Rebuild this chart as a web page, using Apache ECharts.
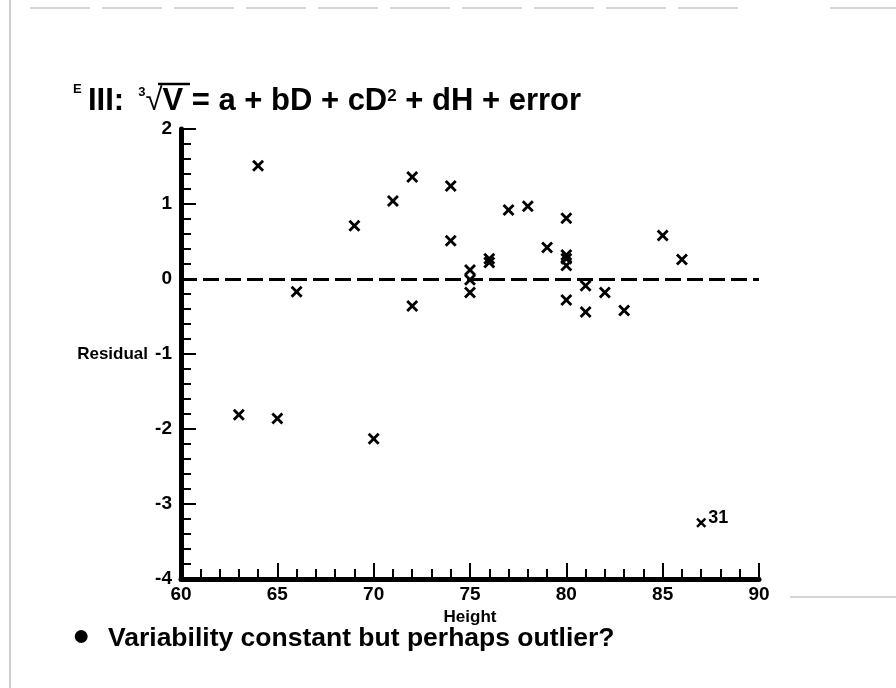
<!DOCTYPE html>
<html>
<head>
<meta charset="utf-8">
<script src="https://cdn.jsdelivr.net/npm/echarts@6/dist/echarts.min.js"></script>
<style>html,body{margin:0;padding:0;background:#fff}#c{width:896px;height:688px}</style>
</head>
<body>
<div id="c"></div>
<script>
// Data
const heights   = [63, 64, 65, 66, 69, 70, 71, 72, 72, 74, 74, 75, 75, 75, 76, 76, 77, 78, 79, 80, 80, 80, 80, 80, 81, 81, 82, 83, 85, 86];
const residuals = [-1.81, 1.51, -1.86, -0.17, 0.71, -2.13, 1.04, 1.36, -0.36, 1.24, 0.51, 0.12, -0.01, -0.18, 0.27, 0.22, 0.92, 0.97, 0.42, 0.81, 0.32, 0.27, 0.18, -0.28, -0.09, -0.44, -0.18, -0.42, 0.58, 0.26];
const outlierHeight = [87];
const outlierResidual = [-3.25];
const outlierLabel = ['31'];
const xTicks = [60, 65, 70, 75, 80, 85, 90];
const yTicks = [-4, -3, -2, -1, 0, 1, 2];

const FONT = '"Liberation Sans", Arial, sans-serif';
const cross = 'path://M0,2 L2,0 L6,4 L10,0 L12,2 L8,6 L12,10 L10,12 L6,8 L2,12 L0,10 L4,6 Z';

const chart = echarts.init(document.getElementById('c'), null, {renderer: 'canvas'});
chart.setOption({
  backgroundColor: '#fff',
  animation: false,
  grid: {left: 181, right: 137, top: 129, bottom: 109},
  xAxis: {
    type: 'value', min: xTicks[0], max: xTicks[xTicks.length - 1], interval: 5,
    name: 'Height', nameLocation: 'middle', nameGap: 24,
    nameTextStyle: {fontFamily: FONT, fontWeight: 'bold', fontSize: 17, color: '#000'},
    axisLine: {onZero: false, lineStyle: {color: '#000', width: 5}},
    axisTick: {inside: true, length: 16, lineStyle: {color: '#000', width: 2}},
    minorTick: {show: true, splitNumber: 5, length: 10, lineStyle: {color: '#000', width: 2}},
    axisLabel: {margin: 6, fontFamily: FONT, fontWeight: 'bold', fontSize: 19, color: '#000'},
    splitLine: {show: false}
  },
  yAxis: {
    type: 'value', min: yTicks[0], max: yTicks[yTicks.length - 1], interval: 1,
    name: 'Residual', nameLocation: 'middle', nameGap: 33, nameRotate: 0,
    nameTextStyle: {fontFamily: FONT, fontWeight: 'bold', fontSize: 17, color: '#000', align: 'right'},
    axisLine: {onZero: false, lineStyle: {color: '#000', width: 5}},
    axisTick: {inside: true, length: 15, lineStyle: {color: '#000', width: 2}},
    minorTick: {show: true, splitNumber: 5, length: 10, lineStyle: {color: '#000', width: 2}},
    axisLabel: {margin: 9, fontFamily: FONT, fontWeight: 'bold', fontSize: 19, color: '#000',
      formatter: v => String(v)},
    splitLine: {show: false}
  },
  series: [
    {
      type: 'scatter',
      data: heights.map((h, i) => [h, residuals[i]]),
      symbol: cross, symbolSize: 12,
      itemStyle: {color: '#000', opacity: 1},
      markLine: {
        silent: true, symbol: ['none', 'none'],
        label: {show: false},
        lineStyle: {color: '#000', width: 3, type: [16, 6], opacity: 1},
        data: [{yAxis: 0}]
      }
    },
    {
      type: 'scatter',
      data: outlierHeight.map((h, i) => ({value: [h, outlierResidual[i]], name: outlierLabel[i]})),
      symbol: cross, symbolSize: 10,
      itemStyle: {color: '#000', opacity: 1},
      label: {show: true, position: 'right', distance: 2, offset: [0, -5],
        formatter: p => p.name,
        fontFamily: FONT, fontWeight: 'bold', fontSize: 18, color: '#000'}
    }
  ],
  graphic: [
    {type: 'text', left: 88, top: 86, style: {
      text: '{a|III:}{g| }{s|3}{r|√}{a|V}{a| = a + bD + cD}{s2|2}{a| + dH + error}',
      rich: {
        a: {fontFamily: FONT, fontWeight: 'bold', fontSize: 31, color: '#000'},
        g: {fontFamily: FONT, fontSize: 31, width: 14},
        s: {fontFamily: FONT, fontWeight: 'bold', fontSize: 13, color: '#000', verticalAlign: 'top', padding: [0, 0, 14, 0]},
        s2: {fontFamily: FONT, fontWeight: 'bold', fontSize: 17, color: '#000', padding: [0, 0, 10, 0]},
        r: {fontFamily: FONT, fontSize: 31, color: '#000'}
      }
    }},
    {type: 'line', shape: {x1: 158, y1: 84, x2: 190, y2: 84}, style: {stroke: '#000', lineWidth: 2.5}},
    {type: 'text', left: 72, top: 622, style: {
      text: '●', fontFamily: FONT, fontSize: 30, fill: '#000'
    }},
    {type: 'text', left: 108, top: 625, style: {
      text: 'Variability constant but perhaps outlier?',
      fontFamily: FONT, fontWeight: 'bold', fontSize: 26.5, fill: '#000'
    }},
    {type: 'text', left: 73, top: 83, style: {text: 'E', fontFamily: FONT, fontWeight: 'bold', fontSize: 13, fill: '#000'}},
    {type: 'line', shape: {x1: 10, y1: 0, x2: 10, y2: 688}, style: {stroke: '#999', lineWidth: 1}},
    {type: 'line', shape: {x1: 30, y1: 8, x2: 750, y2: 8}, style: {stroke: '#aaa', lineWidth: 1, lineDash: [60, 12]}},
    {type: 'line', shape: {x1: 830, y1: 8, x2: 896, y2: 8}, style: {stroke: '#aaa', lineWidth: 1}},
    {type: 'line', shape: {x1: 790, y1: 597, x2: 896, y2: 597}, style: {stroke: '#aaa', lineWidth: 1}}
  ]
});
</script>
</body>
</html>
